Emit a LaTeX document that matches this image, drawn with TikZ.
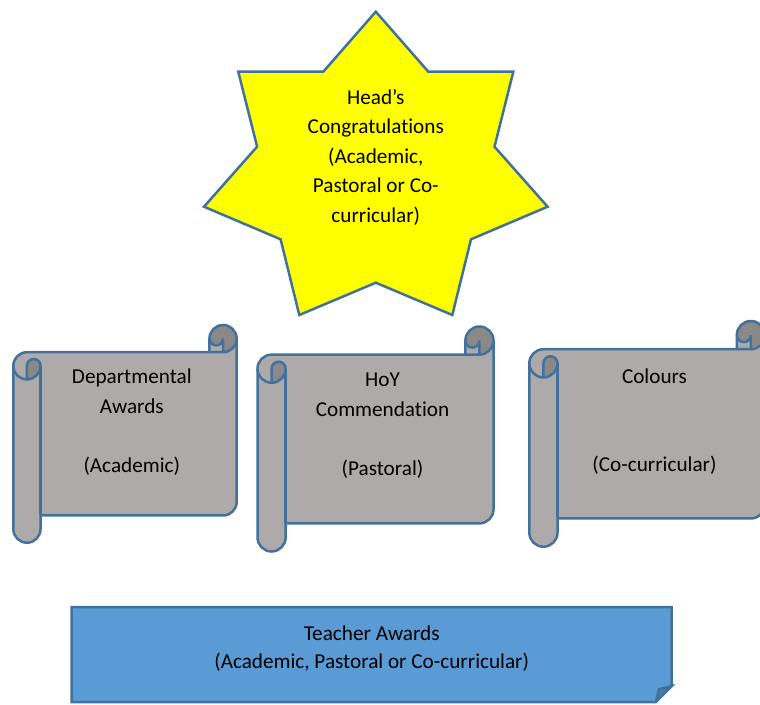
\documentclass[tikz,border=0pt]{standalone}
\usepackage{fontspec}
\setmainfont{Carlito}[Ligatures=CommonOff]
\definecolor{lineblue}{HTML}{41719C}
\definecolor{scrolllight}{HTML}{AEAAAA}
\definecolor{scrolldark}{HTML}{8B8888}
\definecolor{staryellow}{HTML}{FFFF00}
\definecolor{boxblue}{HTML}{5B9BD5}
\definecolor{boxdark}{HTML}{497CAA}
\tikzset{
  outline/.style={draw=lineblue, line width=2.5pt},
  lbl/.style={inner sep=0pt, align=center, text=black, font=\fontsize{21.2}{29.5}\selectfont},
}
\newcommand{\awardscroll}[4]{%
\begin{scope}
\pgfmathsetmacro\svL{#1}\pgfmathsetmacro\svT{#2}\pgfmathsetmacro\svR{#3}\pgfmathsetmacro\svB{#4}
\pgfmathsetmacro\svC{0.125*min(#3-#1,#4-#2)}
\pgfmathsetmacro\svH{\svC/2}
\pgfmathsetmacro\svQ{\svC/4}
\pgfmathsetmacro\svXa{\svL+\svH}
\pgfmathsetmacro\svXb{\svL+\svC}
\pgfmathsetmacro\svXc{\svR-\svC}
\pgfmathsetmacro\svXd{\svR-\svH}
\pgfmathsetmacro\svYa{\svT+\svH}
\pgfmathsetmacro\svYb{\svT+\svC}
\pgfmathsetmacro\svYc{\svT+\svC+\svH}
\pgfmathsetmacro\svYd{\svT+2*\svC}
\pgfmathsetmacro\svYf{\svB-\svC}
\pgfmathsetmacro\svYg{\svB-\svH}
\pgfmathsetmacro\svYe{\svYf-\svH}
% light body
\fill[scrolllight] (\svR,\svYa) arc[start angle=0,delta angle=90,radius=\svH pt]
  -- (\svXd,\svYa) arc[start angle=0,delta angle=180,radius=\svQ pt]
  -- (\svXc,\svYb) -- (\svXa,\svYb) arc[start angle=270,delta angle=-90,radius=\svH pt]
  -- (\svL,\svYg) arc[start angle=180,delta angle=-180,radius=\svH pt]
  -- (\svXb,\svYf) -- (\svXd,\svYf) arc[start angle=90,delta angle=-90,radius=\svH pt]
  -- cycle;
% dark curls
\fill[scrolldark] (\svXa,\svYd) arc[start angle=90,delta angle=-90,radius=\svH pt]
  arc[start angle=0,delta angle=-180,radius=\svQ pt] -- cycle;
\fill[scrolldark] (\svXd,\svYb) arc[start angle=90,delta angle=-270,radius=\svH pt]
  arc[start angle=180,delta angle=-180,radius=\svQ pt] -- cycle;
% outline
\draw[outline, line join=round] (\svL,\svYc) arc[start angle=180,delta angle=90,radius=\svH pt]
  -- (\svXc,\svYb) -- (\svXc,\svYa) arc[start angle=180,delta angle=180,radius=\svH pt]
  -- (\svR,\svYe) arc[start angle=0,delta angle=90,radius=\svH pt]
  -- (\svXb,\svYf) -- (\svXb,\svYg) arc[start angle=0,delta angle=180,radius=\svH pt]
  -- cycle;
\draw[outline] (\svXc,\svYb) -- (\svXd,\svYb) arc[start angle=90,delta angle=-90,radius=\svH pt];
\draw[outline] (\svXd,\svYb) -- (\svXd,\svYa) arc[start angle=0,delta angle=180,radius=\svQ pt];
\draw[outline] (\svXa,\svYd) -- (\svXa,\svYc) arc[start angle=180,delta angle=180,radius=\svQ pt]
  arc[start angle=0,delta angle=180,radius=\svH pt];
\draw[outline] (\svXb,\svYc) -- (\svXb,\svYf);
\end{scope}}
\begin{document}
\begin{tikzpicture}[x=1pt,y=1pt,yscale=-1]
\useasboundingbox (0,0) rectangle (760,704);
\fill[white] (0,0) rectangle (760,704);
\clip (0,0) rectangle (760,704);
% star
\filldraw[fill=staryellow, outline, line join=miter]
  (375.8,11.7) -- (428.3,71.7) -- (513.3,71.7) -- (494.5,146.7) -- (547.6,206.7)
  -- (471,239.3) -- (452.3,315) -- (375.8,282.7) -- (299.3,315) -- (280.6,239.3)
  -- (204,206.7) -- (257.1,146.7) -- (238.3,71.7) -- (323.3,71.7) -- cycle;
\node[lbl] (head) at (375.8,157.3) {Head’s\\Congratulations\\(Academic,\\Pastoral or Co-\\curricular)};
% scrolls
\awardscroll{13.3}{325}{236.7}{542.7}
\node[lbl] (dept) at (131.8,422) {Departmental\\Awards\\~\\(Academic)};
\awardscroll{257.5}{326.5}{493.5}{551.5}
\node[lbl] (hoy) at (382.5,425.5) {HoY\\Commendation\\~\\(Pastoral)};
\awardscroll{529.3}{321}{765}{546.7}
\node[lbl] (colours) at (654.5,421.5) {Colours\\~\\~\\(Co-curricular)};
% teacher awards box
\fill[boxblue] (71.7,607) -- (671.7,607) -- (671.7,686.2) -- (655.9,702) -- (71.7,702) -- cycle;
\fill[boxdark] (655.9,702) -- (659,689.3) -- (671.7,686.2) -- cycle;
\draw[outline, line join=miter] (655.9,702) -- (659,689.3) -- (671.7,686.2) -- (655.9,702) -- (71.7,702)
  -- (71.7,607) -- (671.7,607) -- (671.7,686.2);
\node[lbl, font=\fontsize{21.2}{28}\selectfont] (teacher) at (371.7,649) {Teacher Awards\\(Academic, Pastoral or Co-curricular)};
\end{tikzpicture}
\end{document}
